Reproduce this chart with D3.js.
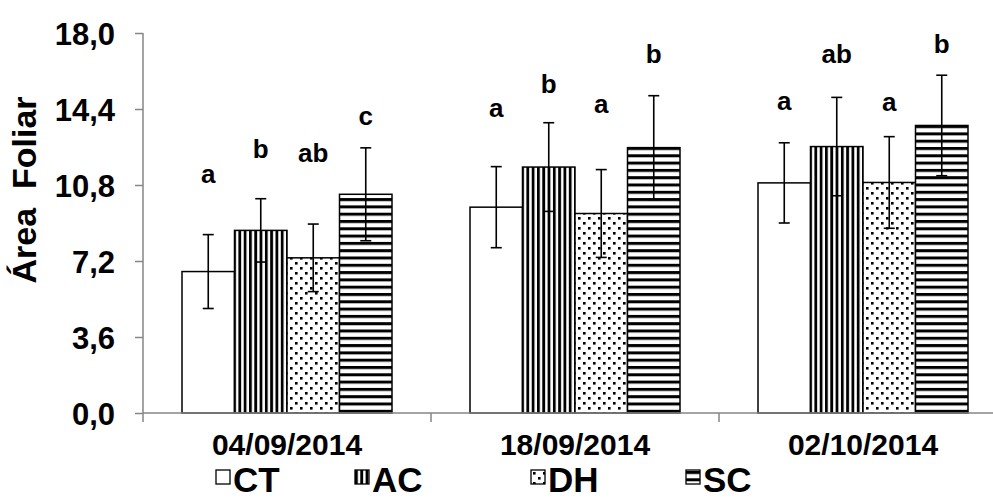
<!DOCTYPE html>
<html lang="pt">
<head>
    <meta charset="UTF-8">
    <title>Área Foliar</title>
    <script src="https://d3js.org/d3.v7.min.js"></script>
    <style>
        body { margin: 0; background: #fff; }
        text { font-family: "Liberation Sans", Arial, sans-serif; font-weight: bold; fill: #000; }
    </style>
</head>
<body>
<svg id="main" width="993" height="498"></svg>

<script>
    // data
    let dates = ['04/09/2014', '18/09/2014', '02/10/2014'];
    let treatments = ['CT', 'AC', 'DH', 'SC'];

    let CT = [6.7, 9.75, 10.9];
    let AC = [8.65, 11.65, 12.62];
    let DH = [7.35, 9.45, 10.92];
    let SC = [10.36, 12.57, 13.62];

    let errCT = [1.75, 1.92, 1.9];
    let errAC = [1.5, 2.1, 2.33];
    let errDH = [1.6, 2.08, 2.17];
    let errSC = [2.2, 2.46, 2.38];

    // letters and the height (in axis units) where they sit
    let letCT = ['a', 'a', 'a'];
    let letAC = ['b', 'b', 'ab'];
    let letDH = ['ab', 'a', 'a'];
    let letSC = ['c', 'b', 'b'];
    let letYCT = [10.9, 14.0, 14.35];
    let letYAC = [12.08, 15.17, 16.6];
    let letYDH = [11.9, 14.2, 14.32];
    let letYSC = [13.64, 16.6, 17.04];

    let yTicks = [0, 3.6, 7.2, 10.8, 14.4, 18];

    let values = {CT: CT, AC: AC, DH: DH, SC: SC};
    let errors = {CT: errCT, AC: errAC, DH: errDH, SC: errSC};
    let letters = {CT: letCT, AC: letAC, DH: letDH, SC: letSC};
    let letterY = {CT: letYCT, AC: letYAC, DH: letYDH, SC: letYSC};

    let rows = [];
    dates.forEach(function(d, i) {
        treatments.forEach(function(t) {
            rows.push({date: d, t: t, v: values[t][i], e: errors[t][i],
                       lab: letters[t][i], ly: letterY[t][i]});
        });
    });

    let mLeft = 143, mTop = 33, mBottom = 413;
    let svg = d3.select('svg#main');

    // fill patterns
    let defs = svg.append('defs');
    let pv = defs.append('pattern').attr('id', 'vert')
        .attr('patternUnits', 'userSpaceOnUse').attr('width', 5.3).attr('height', 10);
    pv.append('rect').attr('width', 5.3).attr('height', 10).attr('fill', '#fff');
    pv.append('rect').attr('width', 2.8).attr('height', 10).attr('fill', '#000');

    let ph = defs.append('pattern').attr('id', 'horiz')
        .attr('patternUnits', 'userSpaceOnUse').attr('width', 10).attr('height', 7.3)
        .attr('y', 1);
    ph.append('rect').attr('width', 10).attr('height', 7.3).attr('fill', '#fff');
    ph.append('rect').attr('width', 10).attr('height', 3).attr('fill', '#000');

    let pd = defs.append('pattern').attr('id', 'dots')
        .attr('patternUnits', 'userSpaceOnUse').attr('width', 10).attr('height', 10);
    pd.append('rect').attr('width', 10).attr('height', 10).attr('fill', '#fff');
    pd.append('rect').attr('x', 2).attr('y', 2).attr('width', 2.6).attr('height', 2.6).attr('fill', '#000');
    pd.append('rect').attr('x', 7).attr('y', 7).attr('width', 2.6).attr('height', 2.6).attr('fill', '#000');

    let fills = {CT: '#fff', AC: 'url(#vert)', DH: 'url(#dots)', SC: 'url(#horiz)'};

    let x0 = d3.scaleBand().domain(dates).range([mLeft, mLeft + 288 * 3]);
    let x1 = d3.scaleBand().domain(treatments).range([39, 249]);
    let y = d3.scaleLinear().domain([0, 18]).range([mBottom, mTop]);

    // y axis
    let yAxis = svg.append('g').attr('transform', 'translate(' + mLeft + ',0)')
        .call(d3.axisLeft(y).tickValues(yTicks).tickSize(8).tickPadding(20)
            .tickFormat(function(d) { return d3.format('.1f')(d).replace('.', ','); }));
    yAxis.select('.domain').attr('stroke', '#868686').attr('stroke-width', 1.5).attr('d', 'M0,' + mTop + 'V' + mBottom);
    yAxis.selectAll('.tick line').attr('stroke', '#868686').attr('stroke-width', 1.5);
    yAxis.selectAll('.tick text').attr('font-size', 31).attr('dy', '0.36em')
        .style('font-family', '"Liberation Sans", Arial, sans-serif').style('font-weight', 'bold').attr('fill', '#000');

    // bars
    let groups = svg.selectAll('g.grp').data(dates).enter().append('g').attr('class', 'grp')
        .attr('transform', function(d) { return 'translate(' + x0(d) + ',0)'; });

    groups.selectAll('rect.bar')
        .data(function(d) { return rows.filter(function(r) { return r.date === d; }); })
        .enter().append('rect').attr('class', 'bar')
        .attr('x', function(d) { return x1(d.t); })
        .attr('width', x1.bandwidth())
        .attr('y', function(d) { return y(d.v); })
        .attr('height', function(d) { return mBottom - y(d.v); })
        .style('fill', function(d) { return fills[d.t]; })
        .attr('stroke', '#000').attr('stroke-width', 1.5);

    // error bars
    let eb = groups.selectAll('g.err')
        .data(function(d) { return rows.filter(function(r) { return r.date === d; }); })
        .enter().append('g').attr('class', 'err')
        .attr('transform', function(d) { return 'translate(' + (x1(d.t) + x1.bandwidth() / 2) + ',0)'; });
    eb.append('line').attr('x1', 0).attr('x2', 0)
        .attr('y1', function(d) { return y(d.v + d.e); })
        .attr('y2', function(d) { return y(d.v - d.e); });
    eb.append('line').attr('x1', -5.5).attr('x2', 5.5)
        .attr('y1', function(d) { return y(d.v + d.e); })
        .attr('y2', function(d) { return y(d.v + d.e); });
    eb.append('line').attr('x1', -5.5).attr('x2', 5.5)
        .attr('y1', function(d) { return y(d.v - d.e); })
        .attr('y2', function(d) { return y(d.v - d.e); });
    eb.selectAll('line').attr('stroke', '#000').attr('stroke-width', 1.6);

    // letters
    groups.selectAll('text.let')
        .data(function(d) { return rows.filter(function(r) { return r.date === d; }); })
        .enter().append('text').attr('class', 'let')
        .attr('x', function(d) { return x1(d.t) + x1.bandwidth() / 2; })
        .attr('y', function(d) { return y(d.ly); })
        .attr('text-anchor', 'middle').attr('font-size', 26)
        .text(function(d) { return d.lab; });

    // x axis
    let xAxis = svg.append('g').attr('transform', 'translate(0,' + mBottom + ')');
    xAxis.append('line').attr('x1', mLeft).attr('x2', 993).attr('y1', 0).attr('y2', 0)
        .attr('stroke', '#868686').attr('stroke-width', 1.5);
    xAxis.selectAll('line.tk').data(dates).enter().append('line').attr('class', 'tk')
        .attr('x1', function(d) { return x0(d); }).attr('x2', function(d) { return x0(d); })
        .attr('y1', 0).attr('y2', 9)
        .attr('stroke', '#868686').attr('stroke-width', 1.5);
    xAxis.selectAll('text').data(dates).enter().append('text')
        .attr('x', function(d) { return x0(d) + x0.bandwidth() / 2; })
        .attr('y', 42).attr('text-anchor', 'middle').attr('font-size', 30)
        .text(function(d) { return d; });

    // y title
    svg.append('text')
        .attr('transform', 'translate(36,190) rotate(-90)')
        .attr('text-anchor', 'middle').attr('font-size', 34)
        .attr('xml:space', 'preserve').style('white-space', 'pre')
        .text('Área  Foliar');

    // legend
    let legX = [216, 355, 531, 686];
    let leg = svg.selectAll('g.leg').data(treatments).enter().append('g').attr('class', 'leg')
        .attr('transform', function(d, i) { return 'translate(' + legX[i] + ',470)'; });
    leg.append('rect').attr('width', 14).attr('height', 14)
        .style('fill', function(d) { return fills[d]; })
        .attr('stroke', '#000').attr('stroke-width', 1.3);
    leg.append('text').attr('x', 17).attr('y', 22).attr('font-size', 35)
        .text(function(d) { return d; });
</script>
</body>
</html>
